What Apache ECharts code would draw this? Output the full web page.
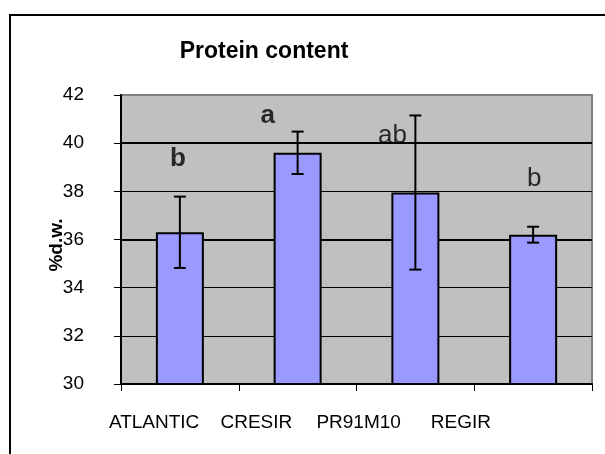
<!DOCTYPE html>
<html>
<head>
<meta charset="utf-8">
<script src="https://cdn.jsdelivr.net/npm/echarts@6/dist/echarts.min.js"></script>
<style>
  html, body { margin: 0; padding: 0; background: #fff; }
  #chart { width: 605px; height: 454px; }
</style>
</head>
<body>
<div id="chart"></div>
<script>
// Protein content per variety (mean and standard deviation, % of dry weight)
const categories = ['ATLANTIC', 'CRESIR', 'PR91M10', 'REGIR'];
const proteinMean = [36.3, 39.6, 37.95, 36.2];
const proteinSD = [1.48, 0.88, 3.2, 0.33];
const groupLetters = ['b', 'a', 'ab', 'b'];
const yTicks = [30, 32, 34, 36, 38, 40, 42];

const FONT = '"Liberation Sans", Arial, sans-serif';

// Letter annotations: height (axis units), horizontal nudge and weight
const letterLayout = [
  { y: 39.35, dx: -2, bold: true },
  { y: 41.15, dx: -30, bold: true },
  { y: 40.3, dx: -23, bold: false },
  { y: 38.5, dx: 1, bold: false }
];

const chart = echarts.init(document.getElementById('chart'), null, { renderer: 'canvas' });

const errorData = categories.map((c, i) => [i, proteinMean[i] - proteinSD[i], proteinMean[i] + proteinSD[i]]);

const option = {
  animation: false,
  backgroundColor: '#ffffff',
  grid: [
    {
      left: 121, right: 13, top: 95, bottom: 70,
      show: true, backgroundColor: '#C0C0C0', borderColor: '#808080', borderWidth: 2
    },
    // label row for the category names
    { left: 103, right: 93, top: 95, bottom: 70, show: false }
  ],
  xAxis: [
    {
      type: 'category', data: categories, gridIndex: 0,
      axisLine: { lineStyle: { color: '#000', width: 2 } },
      axisTick: { show: true, alignWithLabel: false, length: 7, lineStyle: { color: '#000', width: 1 } },
      axisLabel: { show: false },
      splitLine: { show: false }
    },
    {
      type: 'category', data: categories, gridIndex: 1,
      axisLine: { show: false }, axisTick: { show: false },
      axisLabel: { show: true, interval: 0, margin: 29, color: '#000', fontFamily: FONT, fontSize: 19 },
      splitLine: { show: false }
    }
  ],
  yAxis: [
    {
      type: 'value', min: yTicks[0], max: yTicks[yTicks.length - 1], interval: 2, gridIndex: 0,
      axisLine: { show: true, lineStyle: { color: '#000', width: 2 } },
      axisTick: { show: true, length: 7, lineStyle: { color: '#000', width: 1 } },
      axisLabel: { margin: 37, color: '#000', fontFamily: FONT, fontSize: 19 },
      splitLine: { show: true, lineStyle: { color: ['#000', '#000', '#000', '#000', '#000', '#000', '#808080'], width: 1 } }
    },
    { type: 'value', gridIndex: 1, show: false, min: 0, max: 1 }
  ],
  series: [
    {
      // heavier gridlines behind the bars
      type: 'line', xAxisIndex: 0, yAxisIndex: 0, data: [], z: 1, silent: true,
      markLine: {
        z: 1, silent: true, symbol: 'none', label: { show: false },
        lineStyle: { color: '#000', width: 2, type: 'solid' },
        data: [{ yAxis: 36 }, { yAxis: 40 }]
      }
    },
    {
      type: 'bar', xAxisIndex: 0, yAxisIndex: 0, z: 3,
      data: proteinMean,
      barWidth: 48,
      itemStyle: { color: '#9999FF', borderColor: '#000', borderWidth: 2 }
    },
    {
      type: 'custom', xAxisIndex: 0, yAxisIndex: 0, z: 4,
      data: errorData,
      renderItem: function (params, api) {
        const x = api.value(0);
        const lo = api.coord([x, api.value(1)]);
        const hi = api.coord([x, api.value(2)]);
        const cap = 6;
        const st = { stroke: '#000', lineWidth: 2 };
        return {
          type: 'group',
          children: [
            { type: 'line', shape: { x1: hi[0], y1: hi[1], x2: lo[0], y2: lo[1] }, style: st },
            { type: 'line', shape: { x1: hi[0] - cap, y1: hi[1], x2: hi[0] + cap, y2: hi[1] }, style: st },
            { type: 'line', shape: { x1: lo[0] - cap, y1: lo[1], x2: lo[0] + cap, y2: lo[1] }, style: st }
          ]
        };
      }
    },
    {
      type: 'scatter', xAxisIndex: 0, yAxisIndex: 0, z: 5, silent: true,
      symbolSize: 0,
      data: categories.map((c, i) => ({
        value: [i, letterLayout[i].y],
        label: {
          show: true, position: 'inside', formatter: groupLetters[i],
          offset: [letterLayout[i].dx, 0],
          color: '#000', fontFamily: FONT, fontSize: 26,
          fontWeight: letterLayout[i].bold ? 'bold' : 'normal'
        }
      }))
    }
  ],
  graphic: [
    {
      type: 'polyline', z: 10, silent: true,
      shape: { points: [[10, 454], [10, 15], [605, 15]] },
      style: { stroke: '#000', lineWidth: 2, fill: null }
    },
    {
      type: 'text', x: 264, y: 52, z: 10,
      style: {
        text: 'Protein content', fill: '#000', font: 'bold 23px ' + FONT,
        textAlign: 'center', textVerticalAlign: 'middle'
      }
    },
    {
      type: 'text', x: 57, y: 245, rotation: Math.PI / 2, z: 10,
      style: {
        text: '%d.w.', fill: '#000', font: 'bold 19px ' + FONT,
        textAlign: 'center', textVerticalAlign: 'middle'
      }
    }
  ]
};

chart.setOption(option);
</script>
</body>
</html>
